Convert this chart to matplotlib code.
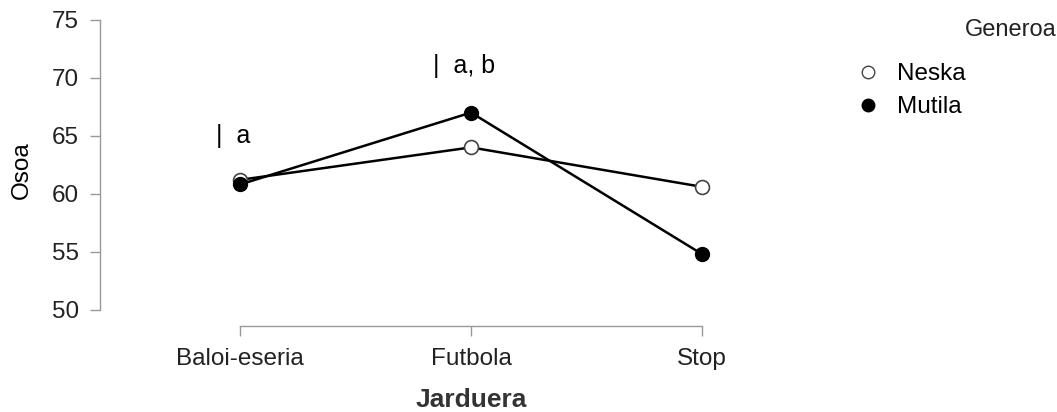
#! /usr/bin/env python3

import matplotlib
matplotlib.use("Agg")
import matplotlib.pyplot as plt
from matplotlib.lines import Line2D

categories = ["Baloi-eseria", "Futbola", "Stop"]
neska = [61.2, 64.0, 60.6]
mutila = [60.8, 67.0, 54.8]
yticks = [50, 55, 60, 65, 70, 75]
marks = {0: "a", 1: "a, b"}
mark_y = {0: 65.0, 1: 71.0}

plt.rcParams["font.family"] = ["Liberation Sans", "DejaVu Sans"]


def main():

    fig = plt.figure(figsize=(10.57, 4.12), dpi=100)
    ax = fig.add_axes([100 / 1057, 1 - 326 / 412, 742 / 1057, (326 - 14) / 412])

    x = list(range(len(categories)))
    ax.plot(x, neska, color="black", lw=1.8, marker="o", ms=10,
            mfc="white", mec="#444444", mew=1.2, zorder=3)
    ax.plot(x, mutila, color="black", lw=1.8, marker="o", ms=10,
            mfc="black", mec="black", zorder=4)

    for i, label in marks.items():
        ax.text(i - 0.03, mark_y[i], "|  " + label, fontsize=18, va="center", ha="center")

    ax.set_xlim(-0.606, 2.606)
    ax.set_ylim(48.6, 75.5)
    ax.set_xticks(x)
    ax.set_xticklabels(categories, fontsize=17.5)
    ax.set_yticks(yticks)
    ax.set_yticklabels([str(v) for v in yticks], fontsize=17.5)

    for side in ("top", "right"):
        ax.spines[side].set_visible(False)
    ax.spines["left"].set_bounds(50, 75)
    ax.spines["bottom"].set_bounds(0, 2)
    for side in ("left", "bottom"):
        ax.spines[side].set_color("#999999")
        ax.spines[side].set_linewidth(1.0)
    ax.tick_params(axis="both", colors="#999999", labelcolor="#222222", length=7, width=1.0)
    ax.tick_params(axis="x", pad=9)
    ax.tick_params(axis="y", pad=8)

    ax.set_ylabel("Osoa", fontsize=17.5, labelpad=14)
    ax.set_xlabel("Jarduera", fontsize=19, fontweight="bold", labelpad=13, color="#333333")

    handles = [
        Line2D([], [], ls="none", marker="o", ms=9, mfc="white", mec="#444444", mew=1.0),
        Line2D([], [], ls="none", marker="o", ms=9, mfc="black", mec="black"),
    ]
    fig.legend(handles, ["Neska", "Mutila"], loc="upper left",
               bbox_to_anchor=(846 / 1057, 1 - 51 / 412), frameon=False,
               fontsize=17.5, handlelength=0.8, handletextpad=0.8, labelspacing=0.45,
               borderpad=0)
    fig.text(1.0, 1 - 30 / 412, "Generoa", fontsize=17, ha="right", va="center",
             color="#222222")

    fig.savefig("out.png", dpi=100)
    plt.close(fig)


if __name__ == "__main__":
    main()
